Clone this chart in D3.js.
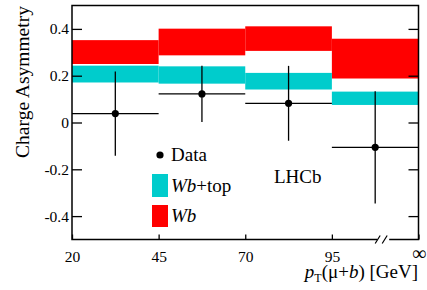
<!DOCTYPE html>
<html>
<head>
<meta charset="utf-8">
<script src="https://cdn.jsdelivr.net/npm/d3@7"></script>
<style>
  body { margin: 0; background: #fff; }
  svg text { font-family: "Liberation Serif", "Times New Roman", Times, serif; fill: #000; }
</style>
</head>
<body>
<div id="chart"></div>
<script>
// bin edges (pT of mu+b in GeV)
var binLabels = ["20", "45", "70", "95", "\u221E"];
// Wb prediction band
var wbLow = [0.250, 0.287, 0.306, 0.188];
var wbHigh = [0.352, 0.401, 0.411, 0.358];
// Wb+top prediction band
var wbTopLow = [0.171, 0.166, 0.141, 0.075];
var wbTopHigh = [0.243, 0.240, 0.212, 0.132];
// data points
var dataVal = [0.038, 0.122, 0.082, -0.106];
var dataErr = [0.180, 0.120, 0.160, 0.240];
var yTicks = [-0.4, -0.2, 0, 0.2, 0.4];
var yTickLabels = ["-0.4", "-0.2", "0", "0.2", "0.4"];

var svgWidth = 427, svgHeight = 290;
var margin = { top: 5.5, bottom: 50.5, left: 72, right: 8.5 };
var chartWidth = svgWidth - margin.left - margin.right;
var chartHeight = svgHeight - margin.top - margin.bottom;

var svg = d3.select("#chart").append("svg")
    .attr("width", svgWidth)
    .attr("height", svgHeight)
    .attr("font-family", "Liberation Serif");

var g = svg.append("g")
    .attr("transform", `translate(${margin.left}, ${margin.top})`);

var x = d3.scaleLinear().domain([0, 4]).range([0, chartWidth]);
var y = d3.scaleLinear().domain([-0.5, 0.5]).range([chartHeight, 0]);

var bins = d3.range(4);

// bands
g.selectAll(".wb").data(bins).enter().append("rect")
    .attr("x", i => x(i))
    .attr("width", i => x(i + 1) - x(i))
    .attr("y", i => y(wbHigh[i]))
    .attr("height", i => y(wbLow[i]) - y(wbHigh[i]))
    .attr("fill", "#ff0000");
g.selectAll(".wbtop").data(bins).enter().append("rect")
    .attr("x", i => x(i))
    .attr("width", i => x(i + 1) - x(i))
    .attr("y", i => y(wbTopHigh[i]))
    .attr("height", i => y(wbTopLow[i]) - y(wbTopHigh[i]))
    .attr("fill", "#00cccc");

// data with error bars
var pts = g.selectAll(".pt").data(bins).enter().append("g");
pts.append("line")
    .attr("x1", i => x(i)).attr("x2", i => x(i + 1))
    .attr("y1", i => y(dataVal[i])).attr("y2", i => y(dataVal[i]))
    .attr("stroke", "#000").attr("stroke-width", 1.3);
pts.append("line")
    .attr("x1", i => x(i + 0.5)).attr("x2", i => x(i + 0.5))
    .attr("y1", i => y(dataVal[i] + dataErr[i])).attr("y2", i => y(dataVal[i] - dataErr[i]))
    .attr("stroke", "#000").attr("stroke-width", 1.3);
pts.append("circle")
    .attr("cx", i => x(i + 0.5))
    .attr("cy", i => y(dataVal[i]))
    .attr("r", 3.6)
    .attr("fill", "#000");

// axes
var yAxis = d3.axisLeft(y).tickValues(yTicks).tickSize(-10)
    .tickFormat((d, i) => yTickLabels[i]);
var yAxisG = g.append("g").call(yAxis).attr("font-family", null).attr("font-size", null);
yAxisG.select(".domain").remove();
yAxisG.selectAll("line").attr("stroke-width", 1.3);
yAxisG.selectAll("text").attr("x", -3).style("font-size", "15.5px");

var yAxisR = d3.axisRight(y).tickValues(yTicks).tickSize(-10).tickFormat("");
var yAxisRG = g.append("g").attr("transform", `translate(${chartWidth},0)`).call(yAxisR);
yAxisRG.select(".domain").remove();
yAxisRG.selectAll("line").attr("stroke-width", 1.3);

var xAxis = d3.axisBottom(x).tickValues([0, 1, 2, 3, 4]).tickSize(-5).tickPadding(11)
    .tickFormat((d, i) => binLabels[i]);
var xAxisG = g.append("g").attr("transform", `translate(0,${chartHeight})`).call(xAxis)
    .attr("font-family", null).attr("font-size", null);
xAxisG.select(".domain").remove();
xAxisG.selectAll("line").attr("stroke-width", 1.3);
xAxisG.selectAll("text").style("font-size", (d, i) => i === 4 ? "20px" : "15.5px")
    .attr("dy", (d, i) => i === 4 ? "0.45em" : "0.71em");

// frame, with a break on the bottom axis
var brk = [x(3.5) + 2, x(3.5) + 14];
var frame = g.append("g").attr("fill", "none").attr("stroke", "#000").attr("stroke-width", 1.5);
frame.append("path")
    .attr("d", `M${brk[0]},${chartHeight}H0V0H${chartWidth}V${chartHeight}H${brk[1]}`);
frame.append("path").attr("stroke-width", 1.2)
    .attr("d", `M${brk[0] - 2},${chartHeight + 4}L${brk[0] + 3},${chartHeight - 4}` +
               `M${brk[0] + 5},${chartHeight + 4}L${brk[0] + 10},${chartHeight - 4}`);

// axis titles
svg.append("text")
    .attr("transform", "translate(29, 82) rotate(-90)")
    .attr("text-anchor", "middle")
    .style("font-size", "19.5px")
    .text("Charge Asymmetry");

var xt = svg.append("text")
    .attr("x", 418).attr("y", 278)
    .attr("text-anchor", "end")
    .style("font-size", "19px");
xt.append("tspan").attr("font-style", "italic").text("p");
xt.append("tspan").attr("dy", 4).style("font-size", "12px").text("T");
xt.append("tspan").attr("dy", -4).text("(\u03BC+");
xt.append("tspan").attr("font-style", "italic").text("b");
xt.append("tspan").text(") [GeV]");

// legend
var leg = svg.append("g");
leg.append("circle").attr("cx", 160).attr("cy", 155).attr("r", 3.6).attr("fill", "#000");
leg.append("text").attr("x", 171).attr("y", 161).style("font-size", "19px").text("Data");
leg.append("rect").attr("x", 152).attr("y", 174).attr("width", 16).attr("height", 23).attr("fill", "#00cccc");
var t1 = leg.append("text").attr("x", 171).attr("y", 192).style("font-size", "19px");
t1.append("tspan").attr("font-style", "italic").text("Wb");
t1.append("tspan").text("+top");
leg.append("rect").attr("x", 152).attr("y", 205).attr("width", 16).attr("height", 22).attr("fill", "#ff0000");
leg.append("text").attr("x", 171).attr("y", 222).style("font-size", "19px")
    .attr("font-style", "italic").text("Wb");

svg.append("text").attr("x", 274).attr("y", 183).style("font-size", "19px").text("LHCb");
</script>
</body>
</html>
